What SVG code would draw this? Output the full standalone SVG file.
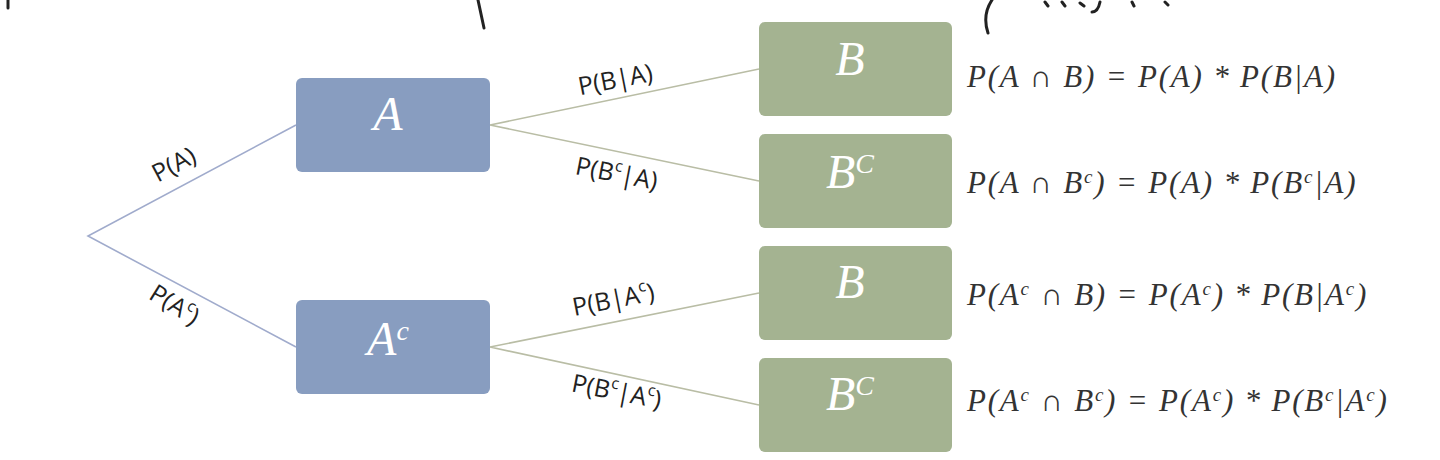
<svg xmlns="http://www.w3.org/2000/svg" width="1440" height="460" viewBox="0 0 1440 460">
<style>
.a{fill:#889dc0}.b{fill:#a4b391}
.n{font-family:"Liberation Serif",serif;font-style:italic;font-size:48px;fill:#fff;text-anchor:middle}
.s{font-size:28px;baseline-shift:super}
.e{font-family:"Open Sans","DejaVu Sans",sans-serif;font-size:25px;fill:#222;text-anchor:middle}
.e .s{font-size:16px}
.f{font-family:"Liberation Serif",serif;font-style:italic;font-size:31px;fill:#333;letter-spacing:1.8px}
.f .s{font-size:19px}
.hw{fill:none;stroke:#222;stroke-width:3;stroke-linecap:round}
</style>
<g id="scribbles">
<path class="hw" d="M8 0 L8 8"/><path class="hw" d="M478 0 L484 28"/>
<path class="hw" d="M992 0 Q982 15 988 33"/>
<path class="hw" d="M1045 2 L1048 6 M1062 2 L1065 6 M1080 3 L1084 6 M1100 2 Q1098 12 1092 12 M1132 2 L1134 6 M1165 2 L1168 5"/>
</g>
<g id="connectors" fill="none" stroke-width="1.6">
<path d="M296 125 L88 236 L296 347" stroke="#a0abcc"/>
<path d="M759 69 L490 125 L759 181 M759 293 L490 347 L759 405" stroke="#b9bda5"/>
</g>
<g id="A"><rect class="a" x="296" y="78" width="194" height="94" rx="6"/><text class="n" x="388" y="130">A</text></g>
<g id="Ac"><rect class="a" x="296" y="300" width="194" height="94" rx="6"/><text class="n" x="388" y="355">A<tspan class="s">c</tspan></text></g>
<g id="B1"><rect class="b" x="759" y="22" width="193" height="94" rx="6"/><text class="n" x="850" y="75">B</text></g>
<g id="Bc1"><rect class="b" x="759" y="134" width="193" height="94" rx="6"/><text class="n" x="850" y="188">B<tspan class="s">C</tspan></text></g>
<g id="B2"><rect class="b" x="759" y="246" width="193" height="94" rx="6"/><text class="n" x="850" y="298">B</text></g>
<g id="Bc2"><rect class="b" x="759" y="358" width="193" height="94" rx="6"/><text class="n" x="850" y="410">B<tspan class="s">C</tspan></text></g>
<g id="edge-labels">
<text class="e" transform="translate(178,172) rotate(-28)">P(A)</text>
<text class="e" transform="translate(170,312) rotate(32)">P(A<tspan class="s">c</tspan>)</text>
<text class="e" transform="translate(617,88) rotate(-11)">P(B|A)</text>
<text class="e" transform="translate(615,182) rotate(11)">P(B<tspan class="s">c</tspan>|A)</text>
<text class="e" transform="translate(615,308) rotate(-11)">P(B|A<tspan class="s">c</tspan>)</text>
<text class="e" transform="translate(615,400) rotate(11)">P(B<tspan class="s">c</tspan>|A<tspan class="s">c</tspan>)</text>
</g>
<g id="formulas">
<text class="f" x="967" y="87">P(A ∩ B) = P(A) * P(B|A)</text>
<text class="f" x="967" y="193">P(A ∩ B<tspan class="s">c</tspan>) = P(A) * P(B<tspan class="s">c</tspan>|A)</text>
<text class="f" x="967" y="305">P(A<tspan class="s">c</tspan> ∩ B) = P(A<tspan class="s">c</tspan>) * P(B|A<tspan class="s">c</tspan>)</text>
<text class="f" x="967" y="411">P(A<tspan class="s">c</tspan> ∩ B<tspan class="s">c</tspan>) = P(A<tspan class="s">c</tspan>) * P(B<tspan class="s">c</tspan>|A<tspan class="s">c</tspan>)</text>
</g>
</svg>
